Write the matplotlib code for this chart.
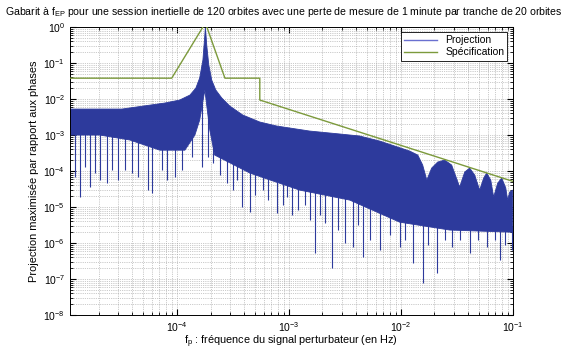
import numpy as np
import matplotlib
matplotlib.use('Agg')
import matplotlib.pyplot as plt
from matplotlib.lines import Line2D

plt.rcParams['font.family'] = ['Liberation Sans', 'DejaVu Sans']
plt.rcParams['mathtext.fontset'] = 'custom'
plt.rcParams['mathtext.rm'] = 'Liberation Sans'
plt.rcParams['mathtext.it'] = 'Liberation Sans'

# Projection: upper envelope of the spectrum (Hz, amplitude)
upper_f = [1.11e-5, 3.23e-5, 7.8e-5, 1.06e-4, 1.31e-4, 1.48e-4, 1.60e-4, 1.71e-4, 1.78e-4,
           1.80e-4, 1.85e-4, 1.93e-4, 2.05e-4, 2.23e-4, 2.52e-4, 2.97e-4, 3.88e-4, 5.51e-4,
           7.81e-4, 1.54e-3, 2.85e-3, 4.30e-3, 6.49e-3, 8.83e-3, 1.20e-2, 1.42e-2, 1.57e-2,
           1.71e-2, 1.89e-2, 2.14e-2, 2.47e-2, 2.85e-2, 3.36e-2, 3.73e-2, 4.13e-2, 4.58e-2,
           5.07e-2, 5.51e-2, 5.86e-2, 6.37e-2, 6.76e-2, 7.35e-2, 7.98e-2, 8.67e-2, 9.02e-2,
           9.40e-2, 0.1]
upper_a = [5.27e-3, 5.27e-3, 7.74e-3, 9.38e-3, 1.29e-2, 2.02e-2, 3.83e-2, 0.121, 0.60,
           1.0, 0.316, 8.8e-2, 3.37e-2, 1.78e-2, 1.07e-2, 6.4e-3, 3.6e-3, 2.3e-3,
           1.78e-3, 1.29e-3, 1.07e-3, 9.4e-4, 6.8e-4, 4.95e-4, 3.6e-4, 2.78e-4, 1.47e-4,
           5.6e-5, 1.21e-4, 1.78e-4, 2.02e-4, 1.47e-4, 3.6e-5, 9.4e-5, 1.21e-4, 7.7e-5,
           2.96e-5, 6.4e-5, 8.8e-5, 5.6e-5, 1.9e-5, 4.6e-5, 6.4e-5, 3.4e-5, 1.56e-5,
           2.6e-5, 2.96e-5]

# Projection: lower edge of the dense body
lower_f = [1.11e-5, 2.05e-5, 3.80e-5, 7.05e-5, 1.18e-4, 1.45e-4, 1.60e-4, 1.78e-4, 1.97e-4,
           2.18e-4, 4.49e-4, 1.25e-3, 3.51e-3, 9.80e-3, 2.74e-2, 0.1]
lower_a = [1.0e-3, 1.0e-3, 7.3e-4, 3.8e-4, 3.8e-4, 1.0e-3, 2.6e-3, 1.78e-2, 1.38e-3,
           2.78e-4, 8.8e-5, 2.96e-5, 1.56e-5, 3.8e-6, 2.3e-6, 2.0e-6]

# Projection: minima of the deep notches
dip_f = [1.23e-5, 1.36e-5, 1.51e-5, 1.67e-5, 1.85e-5, 2.05e-5, 2.37e-5, 2.63e-5, 2.97e-5,
         3.43e-5, 3.96e-5, 4.49e-5, 5.51e-5, 5.98e-5, 7.35e-5, 8.14e-5, 9.6e-5, 1.11e-4,
         1.36e-4, 1.67e-4, 1.89e-4, 2.10e-4,
         2.42e-4, 2.79e-4, 3.16e-4, 3.43e-4, 3.80e-4, 4.49e-4, 4.97e-4, 5.86e-4, 6.49e-4,
         7.81e-4, 8.83e-4, 9.6e-4, 1.06e-3, 1.20e-3, 1.39e-3, 1.54e-3, 1.71e-3, 1.89e-3,
         2.10e-3, 2.42e-3, 2.74e-3, 3.16e-3, 3.73e-3, 4.13e-3,
         4.58e-3, 5.29e-3, 6.49e-3, 7.98e-3, 9.80e-3, 1.09e-2, 1.28e-2, 1.57e-2, 1.74e-2,
         2.10e-2, 2.47e-2, 2.85e-2, 3.36e-2, 4.13e-2, 4.87e-2, 5.86e-2, 6.9e-2, 7.66e-2,
         8.49e-2, 9.8e-2]
dip_a = [6.8e-5, 1.9e-5, 1.29e-4, 3.6e-5, 8.8e-5, 5.6e-5, 4.6e-5, 1.07e-4, 5.6e-5,
         1.07e-4, 8.8e-5, 6.8e-5, 2.96e-5, 2.4e-5, 1.07e-4, 5.6e-5, 6.8e-5, 1.07e-4,
         2.45e-4, 1.29e-4, 2.45e-4, 1.67e-4,
         7.7e-5, 4.6e-5, 2.96e-5, 5.6e-5, 1.0e-5, 7.3e-6, 2.15e-5, 2.96e-5, 1.56e-5,
         6.8e-6, 1.14e-5, 1.9e-5, 6.0e-6, 8.3e-6, 1.14e-5, 4.4e-6, 5.3e-7, 6.0e-6,
         3.6e-6, 2.0e-7, 2.3e-6, 1.0e-6, 7.7e-7, 3.2e-6,
         4.1e-7, 1.21e-6, 6.4e-7, 1.67e-6, 7.7e-7, 1.21e-6, 2.8e-7, 7.7e-8, 8.8e-7,
         1.47e-7, 1.21e-6, 7.7e-7, 1.21e-6, 5.3e-7, 1.21e-6, 7.7e-7, 1.21e-6, 3.4e-7,
         8.8e-7, 6.4e-7]

# Specification template
spec_f = [1.11e-5, 9.0e-5, 1.80e-4, 2.69e-4, 5.51e-4, 5.51e-4, 0.1]
spec_a = [0.038, 0.038, 1.3, 0.038, 0.038, 0.0094, 5.2e-5]

x_ticks = [1e-4, 1e-3, 1e-2, 1e-1]

blue = '#2d3a9c'
green = '#7c9a3c'

fig = plt.figure(figsize=(5.78, 3.54), dpi=100)
ax = fig.add_axes([0.121, 0.110, 0.766, 0.8136])

# dense spectrum body
ax.fill(np.r_[upper_f, lower_f[::-1]], np.r_[upper_a, lower_a[::-1]],
        color=blue, lw=0.6, zorder=2)
# notches below the body
tops = 10 ** np.interp(np.log10(dip_f), np.log10(lower_f), np.log10(lower_a)) * 1.5
ax.vlines(dip_f, dip_a, tops, color=blue, lw=0.8, zorder=2)

ax.plot(spec_f, spec_a, color=green, lw=1.0, zorder=3)

ax.set_xscale('log')
ax.set_yscale('log')
ax.set_xlim(1.11e-5, 0.1)
ax.set_ylim(1e-8, 1)
ax.set_xticks(x_ticks)

ax.grid(True, which='both', ls=':', lw=0.5, color='#9a9a9a')
ax.tick_params(which='both', direction='in', top=True, right=True, labelsize=7.5)
ax.tick_params(which='major', length=4)
ax.tick_params(which='minor', length=2)
for s in ax.spines.values():
    s.set_linewidth(0.7)

ax.set_ylabel('Projection maximisée par rapport aux phases', fontsize=7.9, labelpad=3)
ax.set_xlabel('f$_p$ : fréquence du signal perturbateur (en Hz)', fontsize=7.8, labelpad=0)

fig.text(5 / 578, 1 - 15 / 354,
         'Gabarit à f$_{EP}$ pour une session inertielle de 120 orbites avec une perte '
         'de mesure de 1 minute par tranche de 20 orbites',
         fontsize=7.6, ha='left', va='baseline')

handles = [Line2D([], [], color='#6a70d0', lw=1.0), Line2D([], [], color=green, lw=1.0)]
leg = ax.legend(handles, ['Projection', 'Spécification'], loc='upper right',
                fontsize=7.5, fancybox=False, framealpha=1, edgecolor='black',
                borderaxespad=0.5, handlelength=3.2, borderpad=0.3, labelspacing=0.2)
leg.get_frame().set_linewidth(0.6)

fig.savefig('out.png', dpi=100, facecolor='white')
